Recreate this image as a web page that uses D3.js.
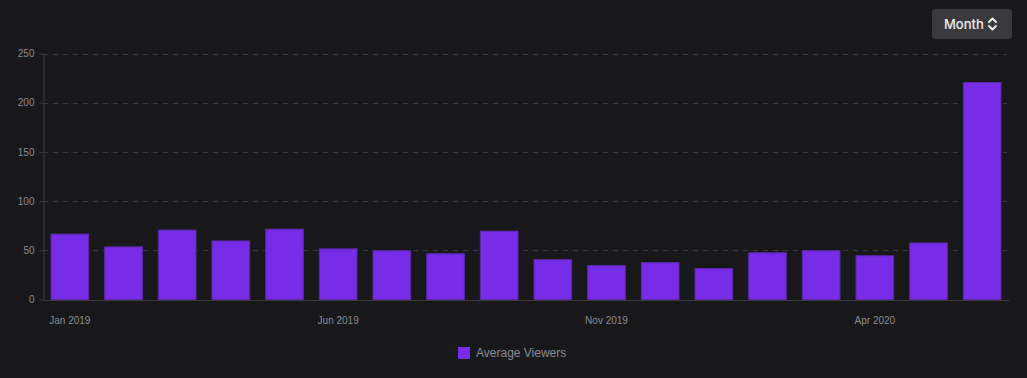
<!DOCTYPE html>
<html>
<head>
<meta charset="utf-8">
<script src="https://cdn.jsdelivr.net/npm/d3@7"></script>
<style>
  html, body { margin: 0; padding: 0; background: #18181b; }
  svg { display: block; }
</style>
</head>
<body>
<svg id="chart" width="1027" height="378"></svg>
<script>
const months = ["Jan 2019","Feb 2019","Mar 2019","Apr 2019","May 2019","Jun 2019","Jul 2019","Aug 2019","Sep 2019","Oct 2019","Nov 2019","Dec 2019","Jan 2020","Feb 2020","Mar 2020","Apr 2020","May 2020","Jun 2020"];
const averageViewers = [67, 54, 71, 60, 72, 52, 50, 47, 70, 41, 35, 38, 32, 48, 50, 45, 58, 221];
const yTicks = [0, 50, 100, 150, 200, 250];
const xTickLabels = ["Jan 2019", "Jun 2019", "Nov 2019", "Apr 2020"];
const seriesName = "Average Viewers";
const buttonLabel = "Month";

(function () {
const svg = d3.select("#chart");
const W = 1027, H = 378;
const mLeft = 43, mRight = 1009, mTop = 53.5, mBottom = 299.5;

svg.append("rect").attr("width", W).attr("height", H).attr("fill", "#18181b");

const x = d3.scaleBand().domain(months).range([mLeft, mRight]).paddingInner(0.28).paddingOuter(0.14);
const y = d3.scaleLinear().domain([0, 250]).range([mBottom, mTop]);

const font = "'Liberation Sans', Arial, sans-serif";

// gridlines
svg.append("g").selectAll("line").data(yTicks.filter(d => d > 0)).join("line")
  .attr("x1", mLeft).attr("x2", mRight - 2)
  .attr("y1", d => Math.round(y(d)) + 0.5).attr("y2", d => Math.round(y(d)) + 0.5)
  .attr("stroke", "#3a3a3e").attr("stroke-dasharray", "5,5");

// y axis
const yAxis = svg.append("g").attr("transform", `translate(${mLeft + 0.5},0)`)
  .call(d3.axisLeft(y).tickValues(yTicks).tickSize(4).tickSizeOuter(0));
yAxis.select(".domain").attr("stroke", "#3a3a3e");
yAxis.selectAll(".tick line").attr("stroke", "#3a3a3e");
yAxis.selectAll(".tick text").attr("fill", "#8c8c92").attr("font-size", 10).attr("font-family", font).attr("x", -9);

// bars
svg.append("g").selectAll("rect").data(averageViewers).join("rect")
  .attr("x", (d, i) => x(months[i]) + 0.5)
  .attr("y", d => y(d) + 0.5)
  .attr("width", x.bandwidth() - 1)
  .attr("height", d => y(0) - y(d) - 0.5)
  .attr("fill", "#772ce8")
  .attr("stroke", "#5a2aa6")
  .attr("stroke-width", 1);

// x axis
const xAxis = svg.append("g").attr("transform", `translate(0,${mBottom + 0.5})`)
  .call(d3.axisBottom(x).tickValues(xTickLabels).tickSize(0).tickSizeOuter(0).tickPadding(17));
xAxis.select(".domain").attr("stroke", "#3a3a3e");
xAxis.selectAll(".tick text").attr("fill", "#8c8c92").attr("font-size", 10).attr("font-family", font);

// legend
const lg = svg.append("g");
lg.append("rect").attr("x", 458).attr("y", 347).attr("width", 12).attr("height", 12).attr("fill", "#772ce8");
lg.append("text").attr("x", 476).attr("y", 357).text(seriesName)
  .attr("fill", "#8c8c92").attr("font-size", 12).attr("font-family", font);

// Month button
const b = svg.append("g");
b.append("rect").attr("x", 932).attr("y", 9).attr("width", 80).attr("height", 30).attr("rx", 4).attr("fill", "#3a3a3d");
b.append("text").attr("x", 944).attr("y", 29).text(buttonLabel)
  .attr("fill", "#efeff1").attr("font-size", 13).attr("font-weight", 500).attr("font-family", "Inter, 'Noto Sans', sans-serif");
b.append("path").attr("d", "M989,22 L992.5,18.5 L996,22 M989,26 L992.5,29.5 L996,26")
  .attr("fill", "none").attr("stroke", "#efeff1").attr("stroke-width", 1.8).attr("stroke-linecap", "round").attr("stroke-linejoin", "round");
})();
</script>
</body>
</html>
